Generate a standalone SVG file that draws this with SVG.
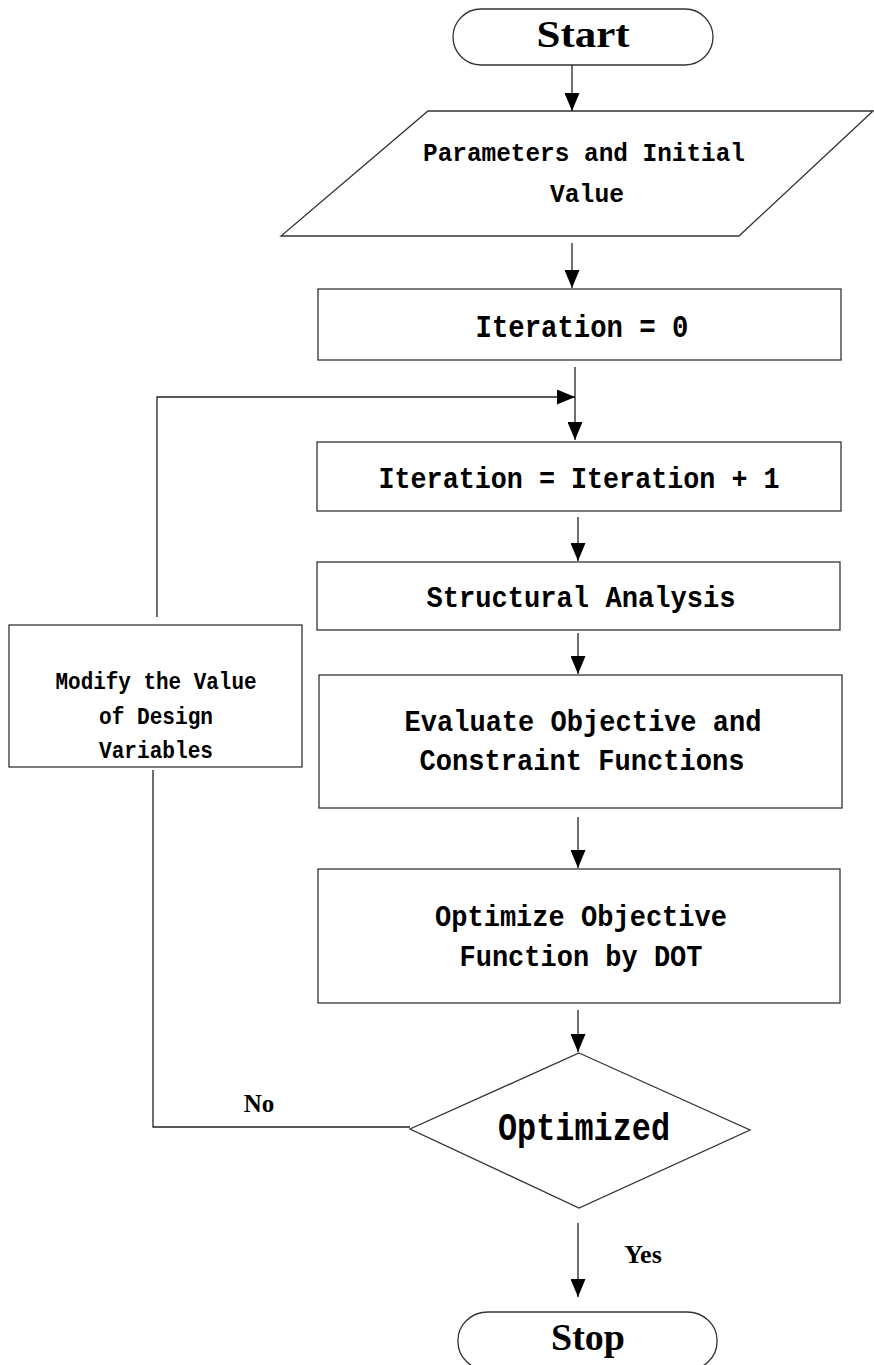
<svg xmlns="http://www.w3.org/2000/svg" width="874" height="1365" viewBox="0 0 874 1365">
<style>
.s{fill:#fff;stroke:#333;stroke-width:1.3}
.c{fill:none;stroke:#222;stroke-width:1.3}
.m{font-family:"Liberation Mono","DejaVu Sans Mono",monospace;font-weight:bold;fill:#000;text-anchor:middle}
.t{font-family:"Liberation Serif","Times New Roman",serif;font-weight:bold;fill:#000;text-anchor:middle}
</style>
<defs>
<marker id="ah" markerUnits="userSpaceOnUse" markerWidth="18" markerHeight="15" refX="18" refY="7.5" orient="auto">
<path d="M0,0 L18,7.5 L0,15 z" fill="#000"/>
</marker>
</defs>
<rect width="874" height="1365" fill="#fff"/>
<g id="start"><rect class="s" x="453" y="9" width="260" height="56" rx="28" ry="28"/><text class="t" x="583" y="47" font-size="38" textLength="93" lengthAdjust="spacingAndGlyphs">Start</text></g>
<g id="params"><polygon class="s" points="428,111 873,111 739,236 281,236"/><text class="m" x="584" y="161" font-size="26" textLength="322" lengthAdjust="spacingAndGlyphs">Parameters and Initial</text><text class="m" x="587" y="202" font-size="26" textLength="74" lengthAdjust="spacingAndGlyphs">Value</text></g>
<g id="iter0"><rect class="s" x="318" y="289" width="523" height="71"/><text class="m" x="582" y="337" font-size="31" textLength="213" lengthAdjust="spacingAndGlyphs">Iteration = 0</text></g>
<g id="iter1"><rect class="s" x="317" y="442" width="524" height="69"/><text class="m" x="579" y="488" font-size="30" textLength="401" lengthAdjust="spacingAndGlyphs">Iteration = Iteration + 1</text></g>
<g id="struct"><rect class="s" x="317" y="562" width="523" height="68"/><text class="m" x="581" y="607" font-size="30" textLength="309" lengthAdjust="spacingAndGlyphs">Structural Analysis</text></g>
<g id="eval"><rect class="s" x="319" y="675" width="523" height="133"/><text class="m" x="583" y="731" font-size="30" textLength="357" lengthAdjust="spacingAndGlyphs">Evaluate Objective and</text><text class="m" x="582" y="770" font-size="30" textLength="325" lengthAdjust="spacingAndGlyphs">Constraint Functions</text></g>
<g id="optfun"><rect class="s" x="318" y="869" width="522" height="134"/><text class="m" x="581" y="926" font-size="30" textLength="292" lengthAdjust="spacingAndGlyphs">Optimize Objective</text><text class="m" x="581" y="966" font-size="30" textLength="243" lengthAdjust="spacingAndGlyphs">Function by DOT</text></g>
<g id="decision"><polygon class="s" points="579,1053 750,1130 579,1208 410,1129"/><text class="m" x="584" y="1140" font-size="38" textLength="172" lengthAdjust="spacingAndGlyphs">Optimized</text></g>
<g id="modify"><rect class="s" x="9" y="625" width="293" height="142"/><text class="m" x="156" y="689" font-size="24" textLength="201" lengthAdjust="spacingAndGlyphs">Modify the Value</text><text class="m" x="156" y="724" font-size="24" textLength="114" lengthAdjust="spacingAndGlyphs">of Design</text><text class="m" x="156" y="758" font-size="24" textLength="114" lengthAdjust="spacingAndGlyphs">Variables</text></g>
<g id="stop"><rect class="s" x="458" y="1312" width="259" height="58" rx="30" ry="28"/><text class="t" x="588" y="1350" font-size="38">Stop</text></g>
<g id="connectors">
<line class="c" x1="572" y1="65" x2="572" y2="111" marker-end="url(#ah)"/>
<line class="c" x1="572" y1="243" x2="572" y2="288" marker-end="url(#ah)"/>
<line class="c" x1="575" y1="367" x2="575" y2="440" marker-end="url(#ah)"/>
<polyline class="c" points="157,617 157,397 575,397" marker-end="url(#ah)"/>
<line class="c" x1="578" y1="517" x2="578" y2="561" marker-end="url(#ah)"/>
<line class="c" x1="578" y1="633" x2="578" y2="674" marker-end="url(#ah)"/>
<line class="c" x1="578" y1="817" x2="578" y2="868" marker-end="url(#ah)"/>
<line class="c" x1="578" y1="1010" x2="578" y2="1052" marker-end="url(#ah)"/>
<polyline class="c" points="410,1127 153,1127 153,770"/>
<line class="c" x1="578" y1="1223" x2="578" y2="1297" marker-end="url(#ah)"/>
<text class="t" x="259" y="1112" font-size="25">No</text>
<text class="t" x="643" y="1263" font-size="26">Yes</text>
</g>
</svg>
